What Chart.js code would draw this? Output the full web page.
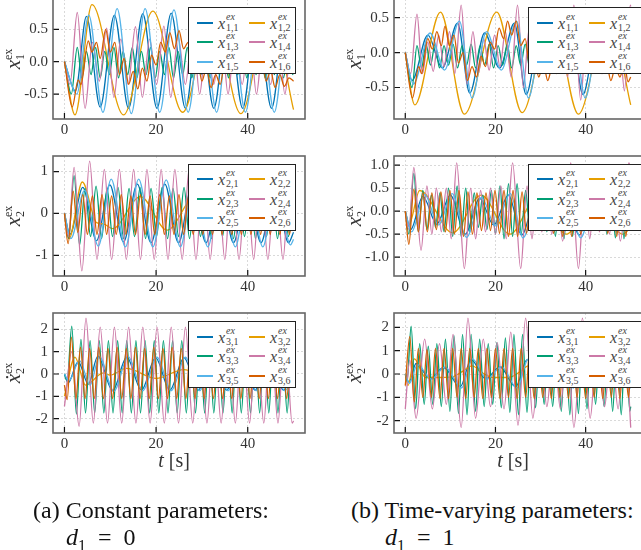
<!DOCTYPE html>
<html>
<head>
<meta charset="utf-8">
<script src="https://cdn.jsdelivr.net/npm/chart.js@4.4.0/dist/chart.umd.min.js"></script>
<style>
  body { margin: 0; width: 641px; height: 550px; overflow: hidden; background: #fff; position: relative;
         font-family: "Liberation Serif", "DejaVu Serif", serif; color: #222; }
  canvas { position: absolute; }
  .legend { position: absolute; background: #fff; border: 1.3px solid #222; box-sizing: border-box; }
  .item { position: absolute; height: 18px; width: 50px; }
  .item .ln { position: absolute; left: 0; top: 8px; width: 16px; height: 2px; }
  .item .x { position: absolute; left: 21px; top: 1px; font-size: 16px; line-height: 18px; font-style: italic; color: #444; }
  .item .sp { position: absolute; left: 29px; top: -2px; font-size: 10px; line-height: 10px; font-style: italic; color: #444; }
  .item .sb { position: absolute; left: 29px; top: 9px; font-size: 10px; line-height: 10px; color: #444; }
  .ytitle { position: absolute; width: 60px; height: 30px; line-height: 30px; text-align: center;
            transform: rotate(-90deg); font-size: 21px; color: #333; }
  .ytitle .ss { display: inline-block; font-size: 12px; line-height: 12px; vertical-align: -4px; text-align: left; }
  .xtitle { position: absolute; width: 80px; text-align: center; font-size: 20px; line-height: 22px; color: #333; }
  .cap { position: absolute; font-size: 24px; line-height: 24px; color: #111; white-space: nowrap; }
</style>
</head>
<body>
<script>
/* ── shared axis values ─────────────────────────────────────────── */
const X_TICKS = [0, 20, 40];
const A1_Y_TICKS = [-0.5, 0, 0.5];
const B1_Y_TICKS = [-0.5, 0, 0.5];
const A2_Y_TICKS = [-1, 0, 1];
const B2_Y_TICKS = [-1, -0.5, 0, 0.5, 1];
const A3_Y_TICKS = [-2, -1, 0, 1, 2];
const B3_Y_TICKS = [-2, -1, 0, 1, 2];
const COLORS = ["#0072b2", "#e69f00", "#009e73", "#cc79a7", "#56b4e9", "#d55e00"];

/* ── (a) x1 : [t, value] read at turning points ─────────────────── */
const A1_X11 = [[0,0],[2.4,-0.45],[4.8,0.70],[7.8,-0.70],[10.9,0.72],[14.0,-0.72],[17.1,0.74],[20.2,-0.72],[23.3,0.75],[26.4,-0.72],[29.5,0.74],[32.6,-0.72],[35.7,0.74],[38.9,-0.72],[42.0,0.74],[45.2,-0.72],[48.3,0.74],[50,0.2]];
const A1_X12 = [[0,0],[2.3,-0.82],[6.0,0.88],[12.9,-0.82],[19.3,0.78],[25.8,-0.78],[32.2,0.8],[38.5,-0.8],[44.8,0.8],[50,-0.74]];
const A1_X13 = [[0,0],[1.5,-0.5],[2.8,0.22],[3.8,-0.25],[4.8,0.16],[5.8,-0.2],[6.8,0.22],[7.8,-0.25],[8.8,0.16],[9.8,-0.2],[10.8,0.22],[11.8,-0.25],[12.8,0.16],[13.8,-0.2],[14.8,0.22],[15.8,-0.25],[16.8,0.16],[17.8,-0.2],[18.8,0.22],[19.8,-0.25],[20.8,0.16],[21.8,-0.2],[22.8,0.22],[23.8,-0.25],[24.8,0.16],[25.8,-0.2],[26.8,0.22],[27.8,-0.25],[28.8,0.16],[29.8,-0.2],[30.8,0.22],[31.8,-0.25],[32.8,0.16],[33.8,-0.2],[34.8,0.22],[35.8,-0.25],[36.8,0.16],[37.8,-0.2],[38.8,0.22],[39.8,-0.25],[40.8,0.16],[41.8,-0.2],[42.8,0.22],[43.8,-0.25],[44.8,0.16],[45.8,-0.2],[46.8,0.22],[47.8,-0.25],[48.8,0.16],[49.8,-0.2],[50,-0.15]];
const A1_X14 = [[0,0],[1.2,-0.35],[2.8,0.76],[4.5,-0.72],[6.1,0.3],[7.6,-0.3],[9.2,0.52],[10.8,-0.55],[12.3,0.35],[13.9,-0.35],[15.5,0.54],[17.0,-0.55],[18.6,0.35],[20.1,-0.35],[21.7,0.55],[23.2,-0.55],[24.8,0.38],[26.4,-0.35],[28.0,0.52],[29.5,-0.5],[31.0,0.35],[32.6,-0.35],[34.2,0.52],[35.7,-0.5],[37.2,0.35],[38.8,-0.35],[40.4,0.52],[41.9,-0.5],[43.4,0.35],[45.0,-0.35],[46.6,0.52],[48.1,-0.5],[49.6,0.35],[50,0.3]];
const A1_X15 = [[0,0],[2.7,-0.5],[5.3,0.72],[8.4,-0.78],[11.5,0.82],[14.6,-0.8],[17.6,0.82],[20.8,-0.78],[23.9,0.8],[27.0,-0.78],[30.1,0.8],[33.2,-0.78],[36.3,0.8],[39.5,-0.78],[42.6,0.8],[45.8,-0.78],[48.9,0.8],[50,0.55]];
const A1_X16 = [[0,0],[1.7,-0.7],[3.0,-0.28],[3.6,-0.35],[5.2,0.32],[6.0,0.15],[7.0,0.3],[7.8,0.05],[9.0,0.5],[10.0,0.15],[11.0,0.3],[12.0,-0.2],[13.0,0.05],[14.0,-0.35],[15.0,-0.15],[16.0,-0.42],[17.0,-0.1],[18.0,-0.3],[19.0,0.1],[20.0,-0.05],[21.0,0.3],[22.0,0.15],[23.0,0.45],[24.0,0.2],[25.0,0.48],[26.0,0.2],[27.0,0.3],[28.0,-0.1],[29.0,0.05],[30.0,-0.3],[31,-0.1],[32,-0.4],[33,-0.2],[34,-0.35],[35,0.0],[36,-0.1],[37,0.2],[38,0.05],[39,0.35],[40,0.1],[41,0.3],[42,-0.05],[43,0.1],[44,-0.3],[45,-0.15],[46,-0.4],[47,-0.2],[48,-0.38],[49,-0.25],[50,-0.3]];

/* ── (b) x1 ─────────────────────────────────────────────────────── */
const B1_X11 = [[0,0],[1.5,-0.4],[5.0,0.25],[8.2,-0.22],[11.6,0.42],[14.3,-0.58],[17.6,0.28],[20.9,-0.22],[24.2,0.42],[26.8,-0.6],[30.0,0.28],[33.3,-0.22],[36.6,0.42],[39.4,-0.6],[42.6,0.28],[45.8,-0.22],[49.0,0.42],[50,0.3]];
const B1_X12 = [[0,0],[2.1,-0.75],[7.8,0.58],[13.1,-0.88],[20.3,0.58],[25.9,-0.86],[32.5,0.58],[38.4,-0.88],[45,0.58],[50,-0.75]];
const B1_X13 = [[0,0],[1.5,-0.5],[2.6,0.1],[3.6,-0.22],[4.6,0.12],[5.6,-0.18],[6.6,0.12],[7.6,-0.22],[8.6,0.1],[9.6,-0.18],[10.6,0.12],[11.6,-0.22],[12.6,0.1],[13.6,-0.18],[14.6,0.12],[15.6,-0.22],[16.6,0.1],[17.6,-0.18],[18.6,0.12],[19.6,-0.22],[20.6,0.1],[21.6,-0.18],[22.6,0.12],[23.6,-0.22],[24.6,0.1],[25.6,-0.18],[26.6,0.12],[27.6,-0.22],[28.6,0.1],[29.6,-0.18],[30.6,0.12],[31.6,-0.22],[32.6,0.1],[33.6,-0.18],[34.6,0.12],[35.6,-0.22],[36.6,0.1],[37.6,-0.18],[38.6,0.12],[39.6,-0.22],[40.6,0.1],[41.6,-0.18],[42.6,0.12],[43.6,-0.22],[44.6,0.1],[45.6,-0.18],[46.6,0.12],[47.6,-0.22],[48.6,0.1],[49.6,-0.18],[50,-0.1]];
const B1_X14 = [[0,0],[1.2,-0.3],[2.6,0.55],[3.8,-0.3],[5.0,0.15],[6.2,-0.27],[7.4,0.25],[8.6,-0.2],[9.8,0.3],[11.0,-0.3],[12.4,0.68],[13.7,-0.45],[15.0,0.3],[16.2,-0.3],[17.4,0.2],[18.6,-0.25],[19.8,0.25],[21.0,-0.2],[22.2,0.3],[23.5,-0.35],[24.9,0.68],[26.2,-0.5],[27.5,0.35],[28.8,-0.3],[30.0,0.2],[31.2,-0.25],[32.4,0.25],[33.6,-0.2],[34.8,0.3],[36.0,-0.35],[37.4,0.68],[38.9,-0.68],[40.2,0.35],[41.4,-0.3],[42.6,0.2],[43.8,-0.3],[45.0,0.25],[46.2,-0.2],[47.4,0.3],[48.6,-0.55],[49.9,0.68],[50,0.66]];
const B1_X15 = [[0,0],[1.8,-0.45],[5.5,0.28],[8.7,-0.25],[12.0,0.45],[14.8,-0.65],[18.0,0.3],[21.3,-0.25],[24.7,0.45],[27.3,-0.65],[30.5,0.3],[33.8,-0.25],[37.1,0.45],[39.9,-0.65],[43.1,0.3],[46.3,-0.25],[49.5,0.45],[50,0.4]];
const B1_X16 = [[0,0],[1.6,-0.65],[3.0,-0.2],[3.6,-0.3],[5.0,0.2],[6.0,0.05],[7.0,0.3],[8.0,0.1],[8.8,0.38],[9.8,0.1],[10.8,0.25],[11.8,-0.15],[12.8,0.0],[13.8,-0.4],[14.8,-0.2],[15.8,-0.35],[16.8,-0.05],[17.8,-0.2],[18.8,0.15],[19.8,0.05],[20.8,0.35],[21.8,0.2],[22.7,0.45],[23.6,0.25],[24.6,0.45],[25.6,0.1],[26.6,0.2],[27.6,-0.2],[28.6,-0.05],[29.6,-0.35],[30.6,-0.15],[31.6,-0.4],[32.6,-0.2],[33.6,-0.3],[34.6,0.05],[35.6,-0.05],[36.6,0.3],[37.6,0.1],[38.6,0.4],[39.6,0.15],[40.6,0.35],[41.6,-0.05],[42.6,0.1],[43.6,-0.3],[44.6,-0.15],[45.6,-0.4],[46.6,-0.2],[47.6,-0.35],[48.6,-0.15],[49.4,-0.42],[50,-0.35]];

/* ── (a) x2 ─────────────────────────────────────────────────────── */
const A2_X21 = [[0,0],[1.2,-0.5],[4.0,0.62],[7.0,-0.65],[9.9,0.68],[12.9,-0.68],[15.9,0.7],[18.9,-0.7],[21.9,0.7],[24.9,-0.7],[27.9,0.7],[30.9,-0.7],[33.9,0.7],[36.9,-0.7],[39.9,0.7],[42.9,-0.7],[45.9,0.7],[48.9,-0.7],[50,-0.45]];
const A2_X22 = [[0,0],[1.0,-0.6],[3.9,0.75],[7.0,-0.22],[8.5,-0.25],[10.5,-0.36],[16.6,0.4],[22.4,-0.4],[28.5,0.4],[34.5,-0.4],[40.5,0.4],[46.5,-0.4],[50,-0.05]];
const A2_X23 = [[0,0],[0.9,-0.6],[2.1,0.9],[3.3,-0.75],[4.5,0.6],[5.7,-0.55],[6.9,0.65],[8.1,-0.6],[9.3,0.6],[10.5,-0.55],[11.7,0.62],[12.9,-0.6],[14.1,0.6],[15.3,-0.55],[16.5,0.62],[17.7,-0.6],[18.9,0.6],[20.1,-0.55],[21.3,0.62],[22.5,-0.6],[23.7,0.6],[24.9,-0.55],[26.1,0.62],[27.3,-0.6],[28.5,0.6],[29.7,-0.55],[30.9,0.62],[32.1,-0.6],[33.3,0.6],[34.5,-0.55],[35.7,0.62],[36.9,-0.6],[38.1,0.6],[39.3,-0.55],[40.5,0.62],[41.7,-0.6],[42.9,0.6],[44.1,-0.55],[45.3,0.62],[46.5,-0.6],[47.7,0.6],[48.9,-0.55],[50,0.5]];
const A2_X24 = [[0,0],[0.9,-0.55],[2.1,1.1],[3.8,-1.37],[5.5,1.25],[7.1,-1.1],[8.7,1.05],[10.3,-1.1],[12.0,1.05],[13.5,-1.1],[15.1,1.05],[16.6,-1.1],[18.0,1.05],[19.6,-1.1],[21.1,1.05],[22.6,-1.1],[24.1,1.05],[25.7,-1.1],[27.2,1.05],[28.7,-1.1],[30.3,1.05],[31.8,-1.1],[33.4,1.05],[35.0,-1.1],[36.5,1.05],[38.1,-1.1],[39.7,1.05],[41.3,-1.1],[42.8,1.05],[44.4,-1.1],[46.0,1.05],[47.7,-1.1],[49.2,1.05],[50,0.3]];
const A2_X25 = [[0,0],[1.4,-0.6],[4.4,0.55],[7.4,-0.78],[10.2,0.82],[13.3,-0.8],[16.2,0.82],[19.3,-0.8],[22.2,0.8],[25.3,-0.8],[28.2,0.8],[31.3,-0.8],[34.2,0.8],[37.3,-0.8],[40.2,0.8],[43.3,-0.8],[46.2,0.8],[49.3,-0.75],[50,-0.62]];
const A2_X26 = [[0,0],[0.8,-0.72],[1.9,0.53],[2.9,-0.45],[4.0,0.45],[5.0,-0.5],[6.1,0.42],[7.1,-0.5],[8.2,0.45],[9.2,-0.5],[10.3,0.42],[11.3,-0.5],[12.4,0.45],[13.4,-0.5],[14.5,0.42],[15.5,-0.5],[16.6,0.45],[17.6,-0.5],[18.7,0.42],[19.7,-0.5],[20.8,0.45],[21.8,-0.5],[22.9,0.42],[23.9,-0.5],[25.0,0.45],[26.0,-0.5],[27.1,0.42],[28.1,-0.5],[29.2,0.45],[30.2,-0.5],[31.3,0.42],[32.3,-0.5],[33.4,0.45],[34.4,-0.5],[35.5,0.42],[36.5,-0.5],[37.6,0.45],[38.6,-0.5],[39.7,0.42],[40.7,-0.5],[41.8,0.45],[42.8,-0.5],[43.9,0.42],[44.9,-0.5],[46.0,0.45],[47.0,-0.5],[48.1,0.42],[49.1,-0.5],[50,0.3]];

/* ── (b) x2 ─────────────────────────────────────────────────────── */
const B2_X21 = [[0,0],[1.2,-0.4],[3.9,0.32],[7.0,-0.28],[10.0,0.35],[13.3,-0.5],[16.5,0.28],[19.6,-0.3],[22.9,0.35],[25.8,-0.52],[29.0,0.28],[32.1,-0.3],[35.4,0.35],[38.6,-0.52],[41.6,0.28],[44.7,-0.3],[47.9,0.35],[50,-0.2]];
const B2_X22 = [[0,0],[0.8,-0.3],[3.2,0.45],[10.5,-0.47],[16.8,0.35],[23.2,-0.5],[29.5,0.35],[35.7,-0.5],[42,0.35],[48.2,-0.5],[50,-0.35]];
const B2_X23 = [[0,0],[0.8,-0.5],[1.9,0.82],[2.9,-0.45],[3.9,0.45],[4.8,-0.4],[5.8,0.35],[6.7,-0.35],[7.7,0.4],[8.6,-0.45],[9.6,0.5],[10.5,-0.55],[11.5,0.55],[12.4,-0.55],[13.4,0.5],[14.3,-0.45],[15.3,0.4],[16.2,-0.35],[17.2,0.35],[18.1,-0.4],[19.1,0.45],[20.0,-0.5],[21.0,0.55],[21.9,-0.6],[22.9,0.6],[23.8,-0.55],[24.8,0.6],[25.7,-0.5],[26.7,0.45],[27.6,-0.4],[28.6,0.35],[29.5,-0.35],[30.5,0.4],[31.4,-0.45],[32.4,0.5],[33.3,-0.55],[34.3,0.58],[35.2,-0.6],[36.2,0.6],[37.1,-0.55],[38.1,0.5],[39.0,-0.45],[40.0,0.4],[40.9,-0.35],[41.9,0.35],[42.8,-0.4],[43.8,0.45],[44.7,-0.5],[45.7,0.55],[46.6,-0.58],[47.6,0.6],[48.5,-0.6],[49.5,0.55],[50,0.1]];
const B2_X24 = [[0,0],[0.8,-0.4],[1.9,0.95],[3.5,-0.85],[4.8,0.55],[5.9,-0.5],[6.9,0.5],[8.0,-0.45],[9.1,0.5],[10.2,-0.6],[11.4,1.05],[13.1,-1.25],[14.5,0.5],[15.6,-0.6],[16.7,0.45],[17.8,-0.45],[18.9,0.5],[20.0,-0.5],[21.2,0.55],[22.4,-0.6],[23.8,1.05],[25.6,-1.25],[27.0,0.55],[28.1,-0.6],[29.2,0.45],[30.3,-0.45],[31.4,0.5],[32.5,-0.5],[33.6,0.55],[34.9,-0.65],[36.7,1.05],[38.4,-1.25],[39.8,0.55],[40.9,-0.6],[42.0,0.45],[43.1,-0.45],[44.2,0.5],[45.3,-0.5],[46.4,0.55],[47.7,-0.65],[49.6,1.05],[50,0.9]];
const B2_X25 = [[0,0],[1.4,-0.45],[4.3,0.36],[7.4,-0.3],[10.4,0.38],[13.6,-0.57],[16.9,0.3],[20.0,-0.32],[23.3,0.38],[26.1,-0.58],[29.4,0.3],[32.5,-0.32],[35.8,0.38],[38.9,-0.58],[42.0,0.3],[45.1,-0.32],[48.3,0.38],[50,-0.1]];
const B2_X26 = [[0,0],[0.8,-0.72],[1.9,0.48],[2.9,-0.45],[3.9,0.4],[4.9,-0.45],[5.9,0.4],[6.9,-0.4],[7.9,0.42],[8.9,-0.45],[9.9,0.45],[10.9,-0.5],[11.9,0.45],[12.9,-0.55],[13.9,0.42],[14.9,-0.5],[15.9,0.4],[16.9,-0.42],[17.9,0.4],[18.9,-0.42],[19.9,0.45],[20.9,-0.48],[21.9,0.45],[22.9,-0.55],[23.9,0.45],[24.9,-0.55],[25.9,0.42],[26.9,-0.48],[27.9,0.4],[28.9,-0.42],[29.9,0.4],[30.9,-0.42],[31.9,0.45],[32.9,-0.48],[33.9,0.45],[34.9,-0.55],[35.9,0.45],[36.9,-0.55],[37.9,0.42],[38.9,-0.5],[39.9,0.4],[40.9,-0.42],[41.9,0.4],[42.9,-0.42],[43.9,0.45],[44.9,-0.48],[45.9,0.45],[46.9,-0.55],[47.9,0.45],[48.9,-0.55],[49.9,0.42],[50,0.38]];

/* ── (a) x2 dot ─────────────────────────────────────────────────── */
const A3_X31 = [[0,0],[0.8,-0.4],[3.0,0.55],[5.2,-0.45],[7.3,0.8],[10.5,-0.75],[13.6,0.75],[16.8,-0.72],[19.9,0.72],[23.0,-0.72],[26.1,0.72],[29.2,-0.72],[32.3,0.72],[35.4,-0.72],[38.5,0.72],[41.6,-0.72],[44.7,0.72],[47.8,-0.72],[50,0.2]];
const A3_X32 = [[0,-1.0],[2.3,0.75],[4.6,-0.5],[8.5,0.05],[10.0,-0.05],[13.5,0.25],[20.0,-0.2],[26.0,0.2],[32,-0.2],[38,0.2],[44,-0.2],[50,0.15]];
const A3_X33 = [[0,0],[0.6,-0.3],[1.6,2.15],[2.6,-1.8],[3.6,1.55],[4.6,-1.75],[5.6,1.5],[6.6,-1.75],[7.6,1.5],[8.6,-1.75],[9.6,1.5],[10.6,-1.75],[11.6,1.5],[12.6,-1.75],[13.6,1.5],[14.6,-1.75],[15.6,1.5],[16.6,-1.75],[17.6,1.5],[18.6,-1.75],[19.6,1.5],[20.6,-1.75],[21.6,1.5],[22.6,-1.75],[23.6,1.5],[24.6,-1.75],[25.6,1.5],[26.6,-1.75],[27.6,1.5],[28.6,-1.75],[29.6,1.5],[30.6,-1.75],[31.6,1.5],[32.6,-1.75],[33.6,1.5],[34.6,-1.75],[35.6,1.5],[36.6,-1.75],[37.6,1.5],[38.6,-1.75],[39.6,1.5],[40.6,-1.75],[41.6,1.5],[42.6,-1.75],[43.6,1.5],[44.6,-1.75],[45.6,1.5],[46.6,-1.75],[47.6,1.5],[48.6,-1.75],[49.6,1.5],[50,1.2]];
const A3_X34 = [[0,-1.45],[1.6,1.0],[3.2,-2.35],[4.7,2.5],[6.3,-2.2],[7.8,2.1],[9.4,-2.2],[10.9,2.1],[12.5,-2.2],[14.0,2.1],[15.6,-2.2],[17.1,2.1],[18.7,-2.2],[20.2,2.1],[21.8,-2.2],[23.3,2.1],[24.9,-2.2],[26.4,2.1],[28.0,-2.2],[29.5,2.1],[31.1,-2.2],[32.6,2.1],[34.2,-2.2],[35.7,2.1],[37.3,-2.2],[38.8,2.1],[40.4,-2.2],[41.9,2.1],[43.5,-2.2],[45.0,2.1],[46.6,-2.2],[48.1,2.1],[49.7,-2.2],[50,-2.1]];
const A3_X35 = [[0,0],[1.0,-0.3],[3.3,0.6],[5.6,-0.5],[7.6,0.78],[10.8,-0.78],[13.9,0.78],[17.1,-0.75],[20.2,0.75],[23.3,-0.75],[26.4,0.75],[29.5,-0.75],[32.6,0.75],[35.7,-0.75],[38.8,0.75],[41.9,-0.75],[45.0,0.75],[48.1,-0.75],[50,0.0]];
const A3_X36 = [[0,-0.5],[0.6,-1.15],[1.5,1.65],[2.5,-1.1],[3.5,1.2],[4.5,-1.1],[5.5,1.15],[6.5,-1.1],[7.5,1.2],[8.5,-1.1],[9.5,1.15],[10.5,-1.1],[11.5,1.2],[12.5,-1.1],[13.5,1.15],[14.5,-1.1],[15.5,1.2],[16.5,-1.1],[17.5,1.15],[18.5,-1.1],[19.5,1.2],[20.5,-1.1],[21.5,1.15],[22.5,-1.1],[23.5,1.2],[24.5,-1.1],[25.5,1.15],[26.5,-1.1],[27.5,1.2],[28.5,-1.1],[29.5,1.15],[30.5,-1.1],[31.5,1.2],[32.5,-1.1],[33.5,1.15],[34.5,-1.1],[35.5,1.2],[36.5,-1.1],[37.5,1.15],[38.5,-1.1],[39.5,1.2],[40.5,-1.1],[41.5,1.15],[42.5,-1.1],[43.5,1.2],[44.5,-1.1],[45.5,1.15],[46.5,-1.1],[47.5,1.2],[48.5,-1.1],[49.5,1.15],[50,0.4]];

/* ── (b) x2 dot ─────────────────────────────────────────────────── */
const B3_X31 = [[0,0],[0.8,-0.35],[2.4,0.45],[5.5,-0.2],[8.5,0.28],[12.2,-0.55],[14.6,0.62],[17.8,-0.2],[21.0,0.3],[24.5,-0.55],[27.0,0.62],[30.3,-0.2],[33.5,0.3],[37.0,-0.55],[39.5,0.62],[42.8,-0.2],[46.0,0.3],[49.5,-0.55],[50,-0.5]];
const B3_X32 = [[0,0],[0.6,-0.5],[2.0,0.65],[4.5,-0.15],[7.0,-0.15],[10.5,-0.12],[12.6,0.1],[14.8,0.35],[17.5,0.0],[19.5,-0.15],[23.0,-0.15],[25.5,0.1],[27.3,0.35],[30.0,0.0],[32.0,-0.15],[35.5,-0.15],[38.0,0.1],[39.8,0.35],[42.5,0.0],[44.5,-0.15],[48.0,-0.15],[50,0.1]];
const B3_X33 = [[0,0],[0.4,-0.3],[1.3,2.05],[2.3,-1.5],[3.2,1.3],[4.2,-1.3],[5.1,1.2],[6.1,-1.3],[7.0,1.3],[8.0,-1.4],[8.9,1.5],[9.9,-1.6],[10.8,1.65],[11.8,-1.7],[12.7,1.7],[13.7,-1.75],[14.6,1.7],[15.6,-1.6],[16.5,1.5],[17.5,-1.4],[18.4,1.3],[19.4,-1.3],[20.3,1.35],[21.3,-1.45],[22.2,1.55],[23.2,-1.65],[24.1,1.7],[25.1,-1.75],[26.0,1.7],[27.0,-1.65],[27.9,1.55],[28.9,-1.45],[29.8,1.35],[30.8,-1.3],[31.7,1.3],[32.7,-1.4],[33.6,1.5],[34.6,-1.6],[35.5,1.65],[36.5,-1.75],[37.4,1.75],[38.4,-1.7],[39.3,1.6],[40.3,-1.5],[41.2,1.4],[42.2,-1.3],[43.1,1.3],[44.1,-1.4],[45.0,1.5],[46.0,-1.6],[46.9,1.65],[47.9,-1.75],[48.8,1.7],[49.8,-1.6],[50,-1.4]];
const B3_X34 = [[0,-1.5],[1.0,0.6],[2.4,-1.9],[4.3,1.5],[6.0,-1.5],[7.6,1.3],[9.1,-1.3],[10.6,1.7],[12.4,-2.3],[13.9,2.4],[15.6,-1.9],[17.3,1.5],[18.9,-1.4],[20.4,1.35],[21.9,-1.5],[23.4,1.8],[25.0,-2.2],[26.7,2.4],[28.3,-1.9],[29.9,1.5],[31.4,-1.4],[32.9,1.35],[34.4,-1.5],[35.9,1.8],[37.4,-2.3],[39.3,2.4],[41.0,-1.9],[42.6,1.5],[44.2,-1.4],[45.7,1.35],[47.2,-1.5],[48.7,1.8],[50,-2.3]];
const B3_X35 = [[0,0],[0.9,-0.4],[2.7,0.4],[5.8,-0.22],[8.8,0.3],[12.5,-0.6],[14.9,0.65],[18.1,-0.22],[21.3,0.32],[24.8,-0.6],[27.3,0.65],[30.6,-0.22],[33.8,0.32],[37.3,-0.6],[39.8,0.65],[43.1,-0.22],[46.3,0.32],[49.8,-0.6],[50,-0.58]];
const B3_X36 = [[0,-0.5],[1.0,1.6],[2.0,-1.2],[2.9,1.1],[3.9,-1.0],[4.8,1.05],[5.8,-1.0],[6.7,1.1],[7.7,-1.05],[8.6,1.1],[9.6,-1.05],[10.5,1.1],[11.5,-1.0],[12.4,1.1],[13.4,-1.05],[14.3,1.1],[15.3,-1.0],[16.2,1.1],[17.2,-1.05],[18.1,1.1],[19.1,-1.0],[20.0,1.1],[21.0,-1.05],[21.9,1.1],[22.9,-1.0],[23.8,1.1],[24.8,-1.05],[25.7,1.1],[26.7,-1.0],[27.6,1.1],[28.6,-1.05],[29.5,1.1],[30.5,-1.0],[31.4,1.1],[32.4,-1.05],[33.3,1.1],[34.3,-1.0],[35.2,1.1],[36.2,-1.05],[37.1,1.1],[38.1,-1.0],[39.0,1.1],[40.0,-1.05],[40.9,1.1],[41.9,-1.0],[42.8,1.1],[43.8,-1.05],[44.7,1.1],[45.7,-1.0],[46.6,1.1],[47.6,-1.05],[48.5,1.1],[49.5,-1.0],[50,0.2]];

/* ── panel layout ───────────────────────────────────────────────── */
const YW = 53, PT = 4, PR = 4, XH = 26;
const PANELS = [
  { L: 53,  R: 305, T: -1,    B: 119,   ymin: -0.884, ymax: 0.968, ticks: A1_Y_TICKS, dec: 1, row: 1, series: [A1_X11, A1_X12, A1_X13, A1_X14, A1_X15, A1_X16] },
  { L: 394, R: 642, T: -1,    B: 119.3, ymin: -0.951, ymax: 0.767, ticks: B1_Y_TICKS, dec: 1, row: 1, series: [B1_X11, B1_X12, B1_X13, B1_X14, B1_X15, B1_X16] },
  { L: 53,  R: 305, T: 155.7, B: 276,   ymin: -1.493, ymax: 1.371, ticks: A2_Y_TICKS, dec: 0, row: 2, series: [A2_X21, A2_X22, A2_X23, A2_X24, A2_X25, A2_X26] },
  { L: 394, R: 642, T: 155.7, B: 276,   ymin: -1.41,  ymax: 1.2,   ticks: B2_Y_TICKS, dec: 1, row: 2, series: [B2_X21, B2_X22, B2_X23, B2_X24, B2_X25, B2_X26] },
  { L: 53,  R: 305, T: 313.3, B: 433.3, ymin: -2.646, ymax: 2.735, ticks: A3_Y_TICKS, dec: 0, row: 3, series: [A3_X31, A3_X32, A3_X33, A3_X34, A3_X35, A3_X36] },
  { L: 394, R: 642, T: 313.3, B: 433.3, ymin: -2.532, ymax: 2.618, ticks: B3_Y_TICKS, dec: 0, row: 3, series: [B3_X31, B3_X32, B3_X33, B3_X34, B3_X35, B3_X36] },
];

const FONT = "Liberation Serif";

// spines + inward ticks, drawn over the lines
const framePlugin = {
  id: "frame",
  afterDatasetsDraw(chart) {
    const { ctx, chartArea: a, scales: { x, y } } = chart;
    ctx.save();
    ctx.strokeStyle = "#111";
    ctx.lineWidth = 1.2;
    ctx.beginPath();
    X_TICKS.forEach((v) => {
      const px = x.getPixelForValue(v);
      ctx.moveTo(px, a.bottom); ctx.lineTo(px, a.bottom - 6);
    });
    y.ticks.forEach((t) => {
      const py = y.getPixelForValue(t.value);
      ctx.moveTo(a.left, py); ctx.lineTo(a.left + 6, py);
    });
    ctx.stroke();
    ctx.strokeStyle = "#666";
    ctx.lineWidth = 1.6;
    ctx.strokeRect(a.left, a.top, a.right - a.left, a.bottom - a.top);
    ctx.restore();
  },
};

function chartConfig(p) {
  return {
    type: "line",
    data: {
      datasets: p.series.map((s, i) => ({
        data: s.map(([t, v]) => ({ x: t, y: v })),
        borderColor: COLORS[i],
        borderWidth: 1.3,
        pointRadius: 0,
        cubicInterpolationMode: "monotone",
        order: 5 - i,
      })),
    },
    options: {
      responsive: false,
      maintainAspectRatio: false,
      animation: false,
      devicePixelRatio: 1,
      layout: { padding: { top: PT, right: PR, left: 0, bottom: 0 } },
      plugins: { legend: { display: false }, tooltip: { enabled: false } },
      scales: {
        x: {
          type: "linear", min: -2.5, max: 52.5,
          afterBuildTicks: (s) => { s.ticks = X_TICKS.map((v) => ({ value: v })); },
          afterFit: (s) => { s.height = XH; },
          grid: { color: "#d9d9d9", lineWidth: 1, drawTicks: false },
          border: { display: false, dash: [2, 2] },
          ticks: { color: "#333", font: { family: FONT, size: 15 }, padding: 2, maxRotation: 0, autoSkip: false, callback: (v) => String(v) },
        },
        y: {
          min: p.ymin, max: p.ymax,
          afterBuildTicks: (s) => { s.ticks = p.ticks.map((v) => ({ value: v })); },
          afterFit: (s) => { s.width = YW; },
          grid: { color: "#d9d9d9", lineWidth: 1, drawTicks: false },
          border: { display: false, dash: [2, 2] },
          ticks: { color: "#333", font: { family: FONT, size: 15 }, padding: 5, autoSkip: false, callback: (v) => v.toFixed(p.dec) },
        },
      },
    },
    plugins: [framePlugin],
  };
}

function makePanel(p) {
  const cv = document.createElement("canvas");
  let w = Math.round(YW + (p.R - p.L) + PR);
  let h = Math.round(PT + (p.B - p.T) + XH);
  cv.width = w; cv.height = h;
  document.body.appendChild(cv);

  // first pass: measure the plot box Chart.js gives, then grow the canvas so it fits
  let chart = new Chart(cv, chartConfig(p));
  const a = chart.chartArea;
  w += Math.round((p.R - p.L) - (a.right - a.left));
  h += Math.round((p.B - p.T) - (a.bottom - a.top));
  chart.destroy();
  cv.width = w; cv.height = h;
  cv.style.width = w + "px"; cv.style.height = h + "px";
  chart = new Chart(cv, chartConfig(p));
  const b = chart.chartArea;
  cv.style.left = (p.L - b.left) + "px";
  cv.style.top = (p.T - b.top) + "px";

  // legend box over the plot (two columns, three rows)
  const lg = document.createElement("div");
  lg.className = "legend";
  lg.style.left = (p.L + (p.L < 200 ? 135 : 134)) + "px";
  lg.style.top = (p.T + 8) + "px";
  lg.style.width = (p.L < 200 ? 108 : 118) + "px";
  lg.style.height = "67px";
  COLORS.forEach((c, i) => {
    const col = i % 2, row = Math.floor(i / 2);
    const it = document.createElement("div");
    it.className = "item";
    it.style.left = (8 + col * 52) + "px";
    it.style.top = (row * 19.5 + 5.5) + "px";
    it.innerHTML = `<span class="ln" style="background:${c}"></span>` +
      `<span class="x">x</span><span class="sp">ex</span><span class="sb">${p.row},${i + 1}</span>`;
    lg.appendChild(it);
  });
  document.body.appendChild(lg);

  // y axis title
  const yt = document.createElement("div");
  yt.className = "ytitle";
  const sym = p.row === 3 ? "\u1E8B" : "x";
  const idx = p.row === 3 ? 2 : p.row;
  yt.innerHTML = `<i>${sym}</i><span class="ss">ex<br>${idx}</span>`;
  yt.style.left = (p.L - 40 - 30) + "px";
  yt.style.top = ((p.T + p.B) / 2 - 15) + "px";
  document.body.appendChild(yt);

  if (p.row === 3) {
    const xt = document.createElement("div");
    xt.className = "xtitle";
    xt.innerHTML = "<i>t</i> [s]";
    xt.style.left = ((p.L + p.R) / 2 - 5 - 40) + "px";
    xt.style.top = "449px";
    document.body.appendChild(xt);
  }
}

PANELS.forEach(makePanel);

// sub-figure captions
const CAPTIONS = [
  { left: 33,  top: 498, text: "(a) Constant parameters:" },
  { left: 66,  top: 525, text: "<i>d</i><sub style=\"font-size:16px\">1</sub>&nbsp;&nbsp;=&nbsp;&nbsp;0" },
  { left: 351, top: 498, text: "(b) Time-varying parameters:" },
  { left: 385, top: 525, text: "<i>d</i><sub style=\"font-size:16px\">1</sub>&nbsp;&nbsp;=&nbsp;&nbsp;1" },
];
CAPTIONS.forEach((c) => {
  const d = document.createElement("div");
  d.className = "cap";
  d.style.left = c.left + "px";
  d.style.top = c.top + "px";
  d.innerHTML = c.text;
  document.body.appendChild(d);
});
</script>
</body>
</html>
